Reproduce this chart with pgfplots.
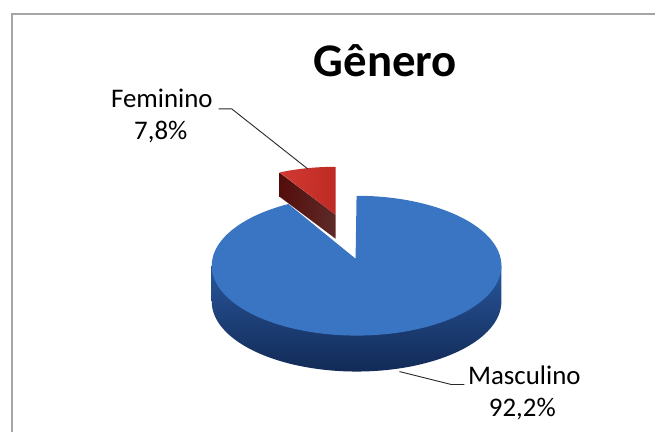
\documentclass[border=0pt]{standalone}
\usepackage{pgfplots}
\pgfplotsset{compat=1.18}
\usepackage{fontspec}
\setmainfont{Carlito}
\definecolor{blueTop}{RGB}{57,117,194}
\definecolor{blueSideT}{RGB}{40,86,155}
\definecolor{blueSideB}{RGB}{18,42,86}
\definecolor{redTopA}{RGB}{210,58,50}
\definecolor{redTopB}{RGB}{190,42,36}
\definecolor{redDark}{RGB}{105,16,14}
\definecolor{frameGray}{RGB}{165,165,165}
\definecolor{leader}{RGB}{40,40,40}
% data
\def\vfem{7.8}
\def\vmasc{92.2}
\pgfmathsetmacro{\aF}{90+3.6*\vfem}
\pgfmathsetmacro{\aM}{\aF+3.6*\vmasc}
\begin{document}
\begin{tikzpicture}
\begin{axis}[
  width=656bp, height=433bp, scale only axis,
  xmin=0, xmax=656, ymin=0, ymax=433, y dir=reverse,
  hide axis, clip=false,
  trig format plots=deg,
]
% bounding
\addplot[draw=none] coordinates {(0,0) (656,433)};
% frame (top and left)
\addplot[frameGray, line width=1.6bp] coordinates {(12,433) (12,14) (656,14)};
% blue side
\addplot[top color=blueSideT, bottom color=blueSideB, draw=none, domain=180:360, samples=80]
  ({357+145*cos(x)}, {302-70*sin(x)}) -- (axis cs:502,266) -- (axis cs:212,266) -- cycle;
% blue top face (Masculino)
\addplot[fill=blueTop, draw=none, domain=\aF:450, samples=160]
  ({357+145*cos(x)}, {266-70*sin(x)}) -- (axis cs:356,259) -- cycle;
% red dark cut face
\addplot[left color=redDark!80!black, right color=redDark!120!red!90, draw=none]
  coordinates {(280,173) (336,215) (336,239) (280,197) (280,173)} -- cycle;
% red top face (Feminino)
\addplot[left color=redTopA, right color=redTopB, draw=none, domain=90:\aF, samples=30]
  ({336+119*cos(x)}, {215-48*sin(x)}) -- (axis cs:336,215) -- cycle;
% leader lines
\addplot[leader, line width=0.9bp] coordinates {(219,109) (232,109) (308,169)};
\addplot[leader, line width=0.9bp] coordinates {(400,372) (452,385) (465,385)};
% labels
\node[anchor=base, font=\fontsize{47}{50}\selectfont\bfseries] at (axis cs:386,77) {Gênero};
\node[anchor=base, font=\fontsize{27}{30}\selectfont] at (axis cs:162,108) {Feminino};
\node[anchor=base, font=\fontsize{27}{30}\selectfont] at (axis cs:161,140) {7,8\%};
\node[anchor=base, font=\fontsize{27}{30}\selectfont] at (axis cs:525,385) {Masculino};
\node[anchor=base, font=\fontsize{27}{30}\selectfont] at (axis cs:523,417) {92,2\%};
\end{axis}
\end{tikzpicture}
\end{document}
